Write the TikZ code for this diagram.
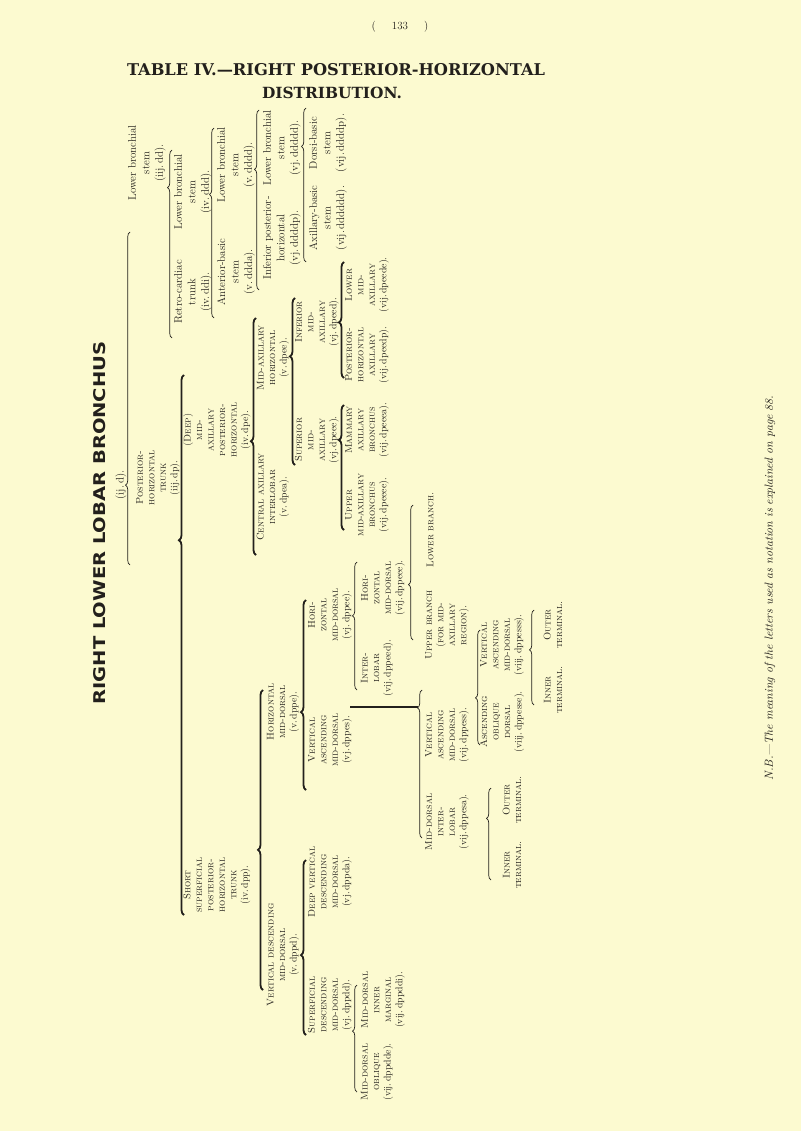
\documentclass[tikz,border=0pt]{standalone}
\usepackage{fontspec}
\usetikzlibrary{decorations.pathreplacing}
\newfontfamily\titlefont{DejaVu Serif}
\newfontfamily\headfont{DejaVu Sans}
\definecolor{paper}{RGB}{252,250,208}
\definecolor{ink}{RGB}{35,32,28}
\newcommand\lab[1]{{\upshape #1}}
\tikzset{
  sc/.style={rotate=90, align=center, inner sep=0pt, text=ink, font=\fontsize{9.8}{11.5}\selectfont\scshape},
  lc/.style={rotate=90, align=center, inner sep=0pt, text=ink, font=\fontsize{11}{13.5}\selectfont},
  br/.style={draw=ink, line width=0.7pt, decorate, decoration={brace, amplitude=4.5pt, aspect=#1}},
  bbr/.style={draw=ink, line width=1.8pt, decorate, decoration={brace, amplitude=5pt, aspect=#1}},
  bar/.style={draw=ink, line width=1.8pt},
}
\begin{document}
\begin{tikzpicture}[x=1pt,y=-1pt]
\fill[paper] (0,0) rectangle (801,1131);
\useasboundingbox (0,0) rectangle (801,1131);
% header
\node[text=ink, font=\fontsize{11}{13}\selectfont] (pg) at (400,27) {(\hspace{16pt}\oldstylenums{133}\hspace{16pt})};
\node[text=ink, font=\titlefont\bfseries, inner sep=0pt] (t1) at (336,70) {\resizebox{418pt}{!}{TABLE IV.—RIGHT POSTERIOR-HORIZONTAL}};
\node[text=ink, font=\titlefont\bfseries, inner sep=0pt] (t2) at (332,93) {\resizebox{140pt}{!}{DISTRIBUTION.}};
% root
\node[rotate=90, text=ink, font=\headfont\bfseries, inner sep=0pt] (root) at (100,523) {\resizebox{363pt}{12pt}{RIGHT LOWER LOBAR BRONCHUS}};
\node[lc] (rootl) at (121,485) {(ij.\,d).};
% level iij
\node[lc] (dd) at (147,163) {Lower bronchial\\stem\\(iij.\,dd).};
\node[sc] (dp) at (158,478) {Posterior-\\horizontal\\trunk\\\lab{(iij.\,dp).}};
% upper branch
\node[lc] (ddi) at (193,292) {Retro-cardiac\\trunk\\(iv.\,ddi).};
\node[lc] (ddd) at (193,192) {Lower bronchial\\stem\\(iv.\,ddd).};
\node[lc] (ddda) at (236,272) {Anterior-basic\\stem\\(v.\,ddda).};
\node[lc] (dddd) at (236,165) {Lower bronchial\\stem\\(v.\,dddd).};
\node[lc] (ddddp) at (282,238) {Inferior posterior-\\horizontal\\(vj.\,ddddp).};
\node[lc] (ddddd) at (282,148) {Lower bronchial\\stem\\(vj.\,ddddd).};
\node[lc] (dddddd) at (328,218) {Axillary-basic\\stem\\(vij.\,dddddd).};
\node[lc] (dbasic) at (328,143) {Dorsi-basic\\stem\\(vij.\,ddddp).};
% mid-axillary branch
\node[sc] (dpe) at (217,430) {(Deep)\\mid-\\axillary\\posterior-\\horizontal\\\lab{(iv.\,dpe).}};
\node[sc] (dpp) at (217,885) {Short\\superficial\\posterior-\\horizontal\\trunk\\\lab{(iv.\,dpp).}};
\node[sc] (dpea) at (273,497) {Central axillary\\interlobar\\\lab{(v.\,dpea).}};
\node[sc] (dpee) at (273,358) {Mid-axillary\\horizontal\\\lab{(v.\,dpee).}};
\node[sc] (dpeee) at (317,440) {Superior\\mid-\\axillary\\\lab{(vj.\,dpeee).}};
\node[sc] (dpeed) at (317,322) {Inferior\\mid-\\axillary\\\lab{(vj.\,dpeed).}};
\node[sc] (dpeeee) at (367,505) {Upper\\mid-axillary\\bronchus\\\lab{(vij.\,dpeeee).}};
\node[sc] (dpeeea) at (367,430) {Mammary\\axillary\\bronchus\\\lab{(vij.\,dpeeea).}};
\node[sc] (dpeedp) at (367,355) {Posterior-\\horizontal\\axillary\\\lab{(vij.\,dpeedp).}};
\node[sc] (dpeede) at (367,285) {Lower\\mid-\\axillary\\\lab{(vij.\,dpeede).}};
% dorsal branch
\node[sc] (dppd) at (283,955) {Vertical descending\\mid-dorsal\\\lab{(v.\,dppd).}};
\node[sc] (dppe) at (283,712) {Horizontal\\mid-dorsal\\\lab{(v.\,dppe).}};
\node[sc] (dppdd) at (330,1005) {Superficial\\descending\\mid-dorsal\\\lab{(vj.\,dppdd).}};
\node[sc] (dppda) at (330,882) {Deep vertical\\descending\\mid-dorsal\\\lab{(vj.\,dppda).}};
\node[sc] (dppes) at (330,740) {Vertical\\ascending\\mid-dorsal\\\lab{(vj.\,dppes).}};
\node[sc] (dppee) at (330,615) {Hori-\\zontal\\mid-dorsal\\\lab{(vj.\,dppee).}};
\node[sc] (dppdde) at (377,1072) {Mid-dorsal\\oblique\\\lab{(vij.\,dppdde).}};
\node[sc] (dppddi) at (383,1000) {Mid-dorsal\\inner\\marginal\\\lab{(vij.\,dppddi).}};
\node[sc] (dppeed) at (377,668) {Inter-\\lobar\\\lab{(vij.\,dppeed).}};
\node[sc] (dppeee) at (383,588) {Hori-\\zontal\\mid-dorsal\\\lab{(vij.\,dppeee).}};
\node[sc] (upper) at (447,625) {Upper branch\\(for mid-\\axillary\\region).};
\node[sc] (lower) at (430,530) {Lower branch.};
\node[sc] (dppesa) at (447,822) {Mid-dorsal\\inter-\\lobar\\\lab{(vij.\,dppesa).}};
\node[sc] (dppess) at (447,735) {Vertical\\ascending\\mid-dorsal\\\lab{(vij.\,dppess).}};
\node[sc] (ti1) at (512,865) {Inner\\terminal.};
\node[sc] (to1) at (512,800) {Outer\\terminal.};
\node[sc] (dppesse) at (502,722) {Ascending\\oblique\\dorsal\\\lab{(viij.\,dppesse).}};
\node[sc] (dppesss) at (502,645) {Vertical\\ascending\\mid-dorsal\\\lab{(viij.\,dppesss).}};
\node[sc] (ti2) at (553,690) {Inner\\terminal.};
\node[sc] (to2) at (553,625) {Outer\\terminal.};
% footnote
\node[rotate=90, text=ink, inner sep=0pt, font=\itshape] (nb) at (770,588) {\resizebox{385pt}{!}{N.B.—The meaning of the letters used as notation is explained on page 88.}};
% brace end points
\coordinate (b1a) at (130,565); \coordinate (b1b) at (130,232);
\coordinate (b2a) at (172,338); \coordinate (b2b) at (172,150);
\coordinate (b3a) at (214,318); \coordinate (b3b) at (214,128);
\coordinate (b4a) at (259,290); \coordinate (b4b) at (259,110);
\coordinate (b5a) at (306,262); \coordinate (b5b) at (306,108);
\coordinate (b6a) at (184,915); \coordinate (b6b) at (184,375);
\coordinate (b7a) at (256,555); \coordinate (b7b) at (256,318);
\coordinate (b8a) at (295,465); \coordinate (b8b) at (295,298);
\coordinate (b9a) at (344,530); \coordinate (b9b) at (344,405);
\coordinate (b10a) at (344,378); \coordinate (b10b) at (344,262);
\coordinate (b11a) at (263,990); \coordinate (b11b) at (263,690);
\coordinate (b12a) at (306,1035); \coordinate (b12b) at (306,860);
\coordinate (b13a) at (306,790); \coordinate (b13b) at (306,600);
\coordinate (b14a) at (357,1092); \coordinate (b14b) at (357,985);
\coordinate (b15a) at (357,690); \coordinate (b15b) at (357,562);
\coordinate (b16a) at (413,640); \coordinate (b16b) at (413,505);
\coordinate (b17a) at (422,838); \coordinate (b17b) at (422,690);
\coordinate (b18a) at (491,880); \coordinate (b18b) at (491,788);
\coordinate (b19a) at (480,745); \coordinate (b19b) at (480,630);
\coordinate (b20a) at (534,705); \coordinate (b20b) at (534,610);
\coordinate (lineA) at (350,707); \coordinate (lineB) at (418,707);
% braces
\draw[br=0.24] (b1a) -- (b1b);
\draw[br=0.8] (b2a) -- (b2b);
\draw[br=0.65] (b3a) -- (b3b);
\draw[br=0.67] (b4a) -- (b4b);
\draw[br=0.75] (b5a) -- (b5b);
\draw[bbr=0.694] (b6a) -- (b6b);
\draw[bbr=0.48] (b7a) -- (b7b);
\draw[bbr=0.65] (b8a) -- (b8b);
\draw[bbr=0.72] (b9a) -- (b9b);
\draw[bbr=0.48] (b10a) -- (b10b);
\draw[bbr=0.467] (b11a) -- (b11b);
\draw[bbr=0.457] (b12a) -- (b12b);
\draw[bbr=0.41] (b13a) -- (b13b);
\draw[br=0.57] (b14a) -- (b14b);
\draw[br=0.58] (b15a) -- (b15b);
\draw[br=0.41] (b16a) -- (b16b);
\draw[bar] (lineA) -- (lineB);
\draw[br=0.88] (b17a) -- (b17b);
\draw[br=0.67] (b18a) -- (b18b);
\draw[br=0.41] (b19a) -- (b19b);
\draw[br=0.58] (b20a) -- (b20b);
\end{tikzpicture}
\end{document}
